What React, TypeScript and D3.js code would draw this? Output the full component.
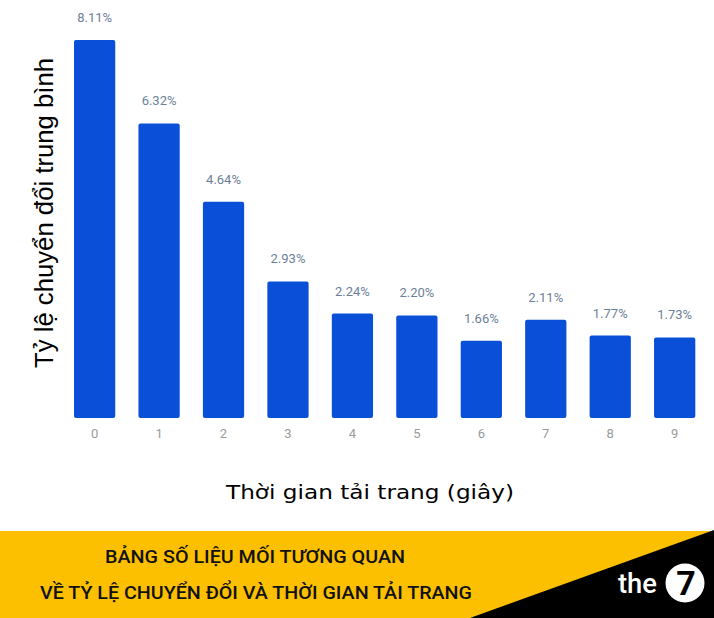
import { useEffect, useRef } from 'react';
import * as d3 from 'd3';

const loadTimes = ['0', '1', '2', '3', '4', '5', '6', '7', '8', '9'];
const conversionRates = [8.11, 6.32, 4.64, 2.93, 2.24, 2.2, 1.66, 2.11, 1.77, 1.73];
const yTitle = 'Tỷ lệ chuyển đổi trung bình';
const xTitle = 'Thời gian tải trang (giây)';
const bannerLines = ['BẢNG SỐ LIỆU MỐI TƯƠNG QUAN', 'VỀ TỶ LỆ CHUYỂN ĐỔI VÀ THỜI GIAN TẢI TRANG'];

const W = 714;
const H = 618;

function Chart() {
  const svgRef = useRef<SVGSVGElement>(null);

  useEffect(() => {
    document.body.style.margin = '0';
    const svg = d3.select(svgRef.current);
    svg.selectAll('*').remove();

    const baseline = 418;
    const x = d3.scaleBand<string>()
      .domain(loadTimes)
      .range([62.4, 706.9])
      .paddingInner(0.36)
      .paddingOuter(0.18);

    const y = d3.scaleLinear()
      .domain([0, 8.5])
      .range([baseline, baseline - 8.5 * 46.6]);

    svg.append('rect').attr('width', W).attr('height', H).attr('fill', '#fff');

    // bars
    svg.append('g')
      .selectAll('rect')
      .data(conversionRates)
      .join('rect')
      .attr('x', (_, i) => x(loadTimes[i])!)
      .attr('y', d => y(d))
      .attr('width', x.bandwidth())
      .attr('height', d => baseline - y(d))
      .attr('rx', 2)
      .attr('fill', '#0a4fd8');

    // value labels
    svg.append('g')
      .selectAll('text')
      .data(conversionRates)
      .join('text')
      .attr('x', (_, i) => x(loadTimes[i])! + x.bandwidth() / 2)
      .attr('y', d => y(d) - 18)
      .attr('text-anchor', 'middle')
      .attr('font-family', 'Roboto, sans-serif')
      .attr('font-size', 13)
      .attr('fill', '#6d7f98')
      .text(d => d.toFixed(2) + '%');

    // x tick labels
    svg.append('g')
      .selectAll('text')
      .data(loadTimes)
      .join('text')
      .attr('x', d => x(d)! + x.bandwidth() / 2)
      .attr('y', 438)
      .attr('text-anchor', 'middle')
      .attr('font-family', 'Roboto, sans-serif')
      .attr('font-size', 13)
      .attr('fill', '#9a9a9a')
      .text(d => d);

    // axis titles
    svg.append('text')
      .attr('transform', 'translate(53,213) rotate(-90)')
      .attr('text-anchor', 'middle')
      .attr('textLength', 310)
      .attr('lengthAdjust', 'spacingAndGlyphs')
      .attr('font-family', '"Liberation Sans", Arial, sans-serif')
      .attr('font-size', 25)
      .attr('fill', '#000')
      .text(yTitle);

    svg.append('text')
      .attr('x', 370)
      .attr('y', 499)
      .attr('text-anchor', 'middle')
      .attr('textLength', 288)
      .attr('lengthAdjust', 'spacingAndGlyphs')
      .attr('font-family', '"DejaVu Sans", sans-serif')
      .attr('font-size', 20)
      .attr('fill', '#000')
      .text(xTitle);

    // banner
    svg.append('rect')
      .attr('x', 0).attr('y', 531)
      .attr('width', W).attr('height', H - 531)
      .attr('fill', '#fdc000');

    svg.append('path')
      .attr('d', `M${W},530 L${W},${H} L470,${H} Z`)
      .attr('fill', '#000');

    const bannerY = [563, 599];
    const bannerX = [[105, 405], [40, 472]];
    svg.append('g')
      .selectAll('text')
      .data(bannerLines)
      .join('text')
      .attr('x', (_, i) => bannerX[i][0])
      .attr('y', (_, i) => bannerY[i])
      .attr('textLength', (_, i) => bannerX[i][1] - bannerX[i][0])
      .attr('lengthAdjust', 'spacingAndGlyphs')
      .attr('font-family', 'Roboto, sans-serif')
      .attr('font-weight', 500)
      .attr('font-size', 19)
      .attr('fill', '#111')
      .text(d => d);

    // logo
    svg.append('text')
      .attr('x', 618)
      .attr('y', 593)
      .attr('textLength', 39)
      .attr('lengthAdjust', 'spacingAndGlyphs')
      .attr('font-family', 'Roboto, sans-serif')
      .attr('font-weight', 500)
      .attr('font-size', 27)
      .attr('fill', '#fff')
      .text('the');

    svg.append('circle')
      .attr('cx', 685).attr('cy', 583).attr('r', 19.5)
      .attr('fill', '#fff');

    svg.append('text')
      .attr('x', 686)
      .attr('y', 595)
      .attr('text-anchor', 'middle')
      .attr('font-family', 'Roboto, sans-serif')
      .attr('font-weight', 700)
      .attr('font-size', 34)
      .attr('fill', '#000')
      .text('7');
  }, []);

  return <svg ref={svgRef} width={W} height={H} style={{ display: 'block' }} />;
}

export default function App() {
  return <Chart />;
}
